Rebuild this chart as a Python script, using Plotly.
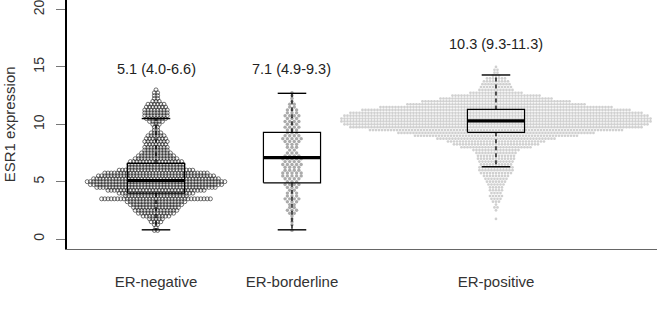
import plotly.graph_objects as go

# ---------------- data ----------------
groups = ["ER-negative", "ER-borderline", "ER-positive"]
positions = [1.0, 2.0, 3.5]
medians = [5.1, 7.1, 10.3]
q1 = [4.0, 4.9, 9.3]
q3 = [6.6, 9.3, 11.3]
whisk_lo = [0.8, 0.8, 6.3]
whisk_hi = [10.5, 12.7, 14.3]
label_y = [14.8, 14.8, 17.0]
yticks = [0, 5, 10, 15, 20]

# ER-negative: expression level -> number of samples at that level
neg_levels = [0.75, 1.0, 1.25, 1.5, 1.75, 2.0, 2.25, 2.5, 2.75, 3.0, 3.25, 3.5, 3.75,
              4.0, 4.25, 4.5, 4.75, 5.0, 5.25, 5.5, 5.75, 6.0, 6.25, 6.5, 6.75, 7.0,
              7.25, 7.5, 7.75, 8.0, 8.25, 8.5, 8.75, 9.0, 9.25, 9.5, 9.75, 10.0, 10.25,
              10.5, 10.75, 11.0, 11.25, 11.5, 11.75, 12.0, 12.25, 12.5, 12.75, 13.0]
neg_counts = [2, 1, 2, 4, 5, 9, 12, 14, 15, 17, 19, 35, 20,
              24, 31, 38, 42, 44, 40, 37, 33, 24, 18, 18, 17, 14,
              12, 10, 8, 8, 7, 8, 7, 6, 4, 2, 2, 3, 5,
              7, 8, 8, 8, 7, 6, 3, 2, 2, 2, 1]

# ER-borderline
bor_levels = [0.75, 1.25, 1.5, 1.75, 2.0, 2.25, 2.5, 2.75, 3.0, 3.25, 3.5, 3.75,
              4.0, 4.25, 4.5, 4.75, 5.0, 5.25, 5.5, 5.75, 6.0, 6.25, 6.5, 6.75, 7.0,
              7.25, 7.5, 7.75, 8.0, 8.25, 8.5, 8.75, 9.0, 9.25, 9.5, 9.75, 10.0, 10.25,
              10.5, 10.75, 11.0, 11.25, 11.5, 11.75, 12.0, 12.25, 12.5, 12.75]
bor_counts = [1, 1, 1, 1, 1, 2, 3, 2, 2, 3, 4, 3,
              3, 2, 3, 4, 3, 4, 5, 5, 4, 4, 5, 4, 5,
              4, 3, 2, 3, 3, 4, 5, 4, 3, 3, 4, 3, 4,
              3, 4, 3, 3, 2, 2, 1, 1, 1, 1]

# ER-positive
pos_levels = [1.75, 2.5, 2.75, 3.0, 3.25, 3.5, 3.75, 4.0, 4.25, 4.5, 4.75, 5.0, 5.25,
              5.5, 5.75, 6.0, 6.25, 6.5, 6.75, 7.0, 7.25, 7.5, 7.75, 8.0, 8.25, 8.5,
              8.75, 9.0, 9.25, 9.5, 9.75, 10.0, 10.25, 10.5, 10.75, 11.0, 11.25, 11.5,
              11.75, 12.0, 12.25, 12.5, 12.75, 13.0, 13.25, 13.5, 13.75, 14.0, 14.25,
              14.5, 14.75, 15.0]
pos_counts = [1, 1, 2, 1, 3, 4, 5, 4, 5, 5, 6, 7, 8,
              9, 11, 12, 12, 11, 12, 13, 13, 14, 16, 24, 29, 33,
              40, 55, 66, 85, 98, 102, 104, 104, 102, 98, 90, 78,
              60, 50, 38, 30, 18, 12, 11, 10, 9, 7, 3,
              2, 2, 1]

# ---------------- layout constants ----------------
W, H = 657, 314
ML, MR, MT, MB = 67, 0, 0, 65
XR = [0.3456, 4.684]
YR = [-0.872, 20.837]
px_per_x = (W - ML - MR) / (XR[1] - XR[0])


def swarm(center, levels, counts, dpx):
    du = dpx / px_per_x
    xs, ys = [], []
    for v, n in zip(levels, counts):
        for i in range(n):
            xs.append(center + (i - (n - 1) / 2) * du)
            ys.append(v)
    return xs, ys


fig = go.Figure()

nx, ny = swarm(positions[0], neg_levels, neg_counts, 3.2)
fig.add_trace(go.Scatter(x=nx, y=ny, mode="markers", hoverinfo="skip",
                         marker=dict(symbol="circle-open", size=4, color="#333333",
                                     line=dict(width=0.7))))
bx, by = swarm(positions[1], bor_levels, bor_counts, 4.6)
fig.add_trace(go.Scatter(x=bx, y=by, mode="markers", hoverinfo="skip",
                         marker=dict(symbol="circle", size=3.4, color="#ababab",
                                     line=dict(width=0))))
px_, py_ = swarm(positions[2], pos_levels, pos_counts, 3.0)
fig.add_trace(go.Scatter(x=px_, y=py_, mode="markers", hoverinfo="skip",
                         marker=dict(symbol="circle", size=2.7, color="#d0d0d0",
                                     line=dict(width=0))))

half = 0.21
for p, m, a, b, lo, hi in zip(positions, medians, q1, q3, whisk_lo, whisk_hi):
    line = dict(color="black", width=1.2)
    fig.add_trace(go.Scatter(x=[p, p], y=[b, hi], mode="lines", hoverinfo="skip",
                             line=dict(color="black", width=1.3, dash="4px,3px")))
    fig.add_trace(go.Scatter(x=[p, p], y=[a, lo], mode="lines", hoverinfo="skip",
                             line=dict(color="black", width=1.3, dash="4px,3px")))
    for yy in (lo, hi):
        fig.add_trace(go.Scatter(x=[p - half / 2, p + half / 2], y=[yy, yy], mode="lines",
                                 hoverinfo="skip", line=dict(color="black", width=1.4)))
    fig.add_trace(go.Scatter(x=[p - half, p + half, p + half, p - half, p - half],
                             y=[a, a, b, b, a], mode="lines", hoverinfo="skip", line=line))
    fig.add_trace(go.Scatter(x=[p - half, p + half], y=[m, m], mode="lines",
                             hoverinfo="skip", line=dict(color="black", width=3.2)))

for p, m, a, b, ly in zip(positions, medians, q1, q3, label_y):
    fig.add_annotation(x=p, y=ly, xref="x", yref="y", text=f"{m} ({a}-{b})",
                       showarrow=False, font=dict(size=14.5, color="#222"))

fig.add_annotation(x=0, y=10, xref="paper", yref="y", text="ESR1 expression",
                   textangle=-90, showarrow=False, xanchor="center", xshift=-58,
                   font=dict(size=15, color="#333"))

fig.update_layout(
    width=W, height=H, autosize=False,
    margin=dict(l=ML, r=MR, t=MT, b=MB),
    paper_bgcolor="white", plot_bgcolor="white",
    showlegend=False,
    font=dict(family="Liberation Sans, Arial, sans-serif", size=14, color="#333"),
    xaxis=dict(range=XR, showgrid=False, zeroline=False, showline=True,
               linecolor="#666", linewidth=1, tickmode="array", tickvals=positions,
               ticktext=groups, ticks="", ticklabelstandoff=19,
               tickfont=dict(size=15, color="#333")),
    yaxis=dict(range=YR, showgrid=False, zeroline=False, showline=True,
               linecolor="black", linewidth=1.5, tickmode="array", tickvals=yticks,
               ticks="outside", ticklen=9, tickcolor="#777", tickwidth=1,
               tickangle=-90, ticklabelstandoff=7, ticklabeloverflow="allow",
               tickfont=dict(size=14, color="#333")),
)

fig.write_html("out.html")
